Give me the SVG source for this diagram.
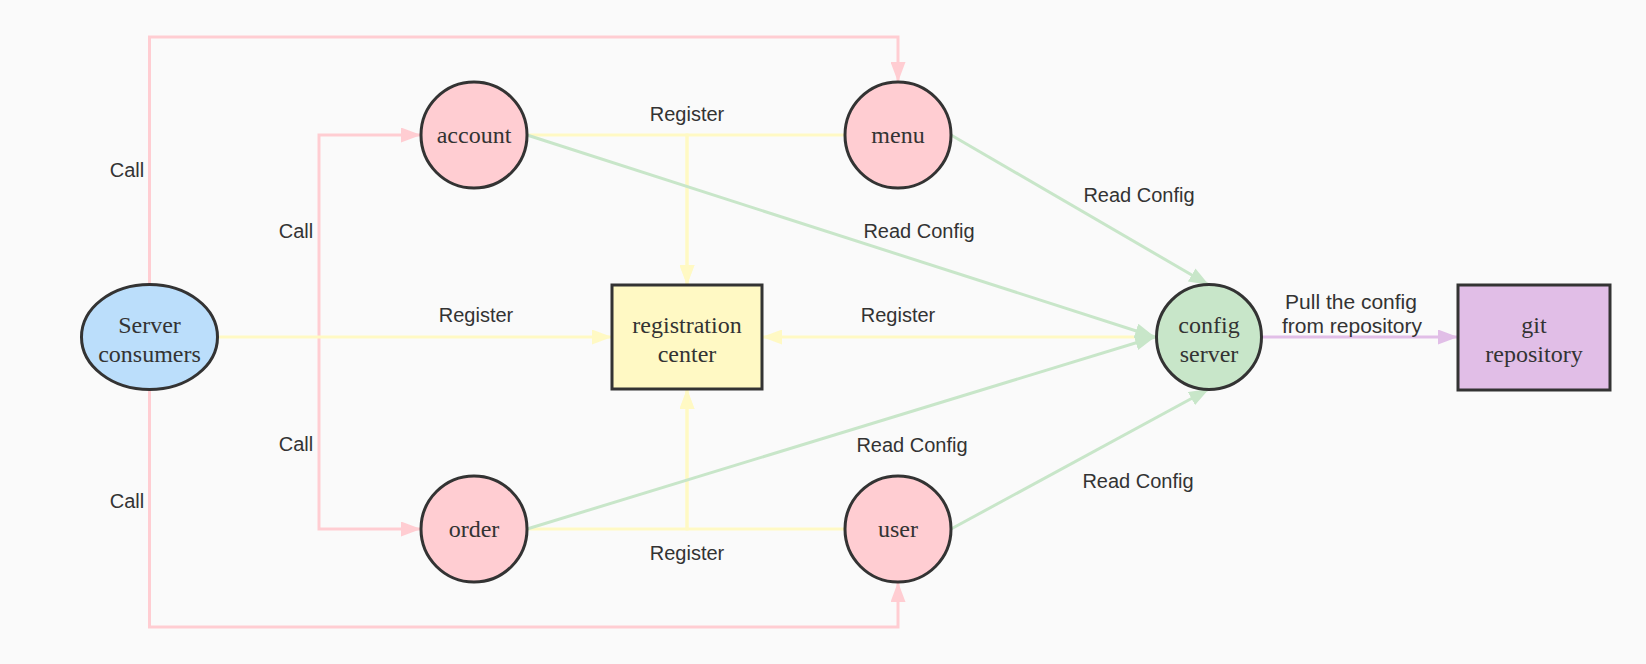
<svg xmlns="http://www.w3.org/2000/svg" width="1646" height="664" viewBox="0 0 1646 664">
<style>
.node{stroke:#333;stroke-width:3}
.nt{font-family:"Liberation Serif","Times New Roman",serif;font-size:24px;fill:#333;text-anchor:middle}
.lt{font-family:"Liberation Sans",Arial,sans-serif;font-size:20px;fill:#333;text-anchor:middle}
.big{font-size:21px}
.e{fill:none;stroke-width:3}
.pink{stroke:#FFCDD2}
.yel{stroke:#FFF9C4}
.grn{stroke:#C8E6C9}
.pur{stroke:#E1BEE7}
</style>
<defs>
<marker id="ap" markerUnits="userSpaceOnUse" markerWidth="20" markerHeight="15" refX="20" refY="7.5" orient="auto"><path d="M0,0 L20,7.5 L0,15 z" fill="#FFCDD2"/></marker>
<marker id="ay" markerUnits="userSpaceOnUse" markerWidth="20" markerHeight="15" refX="20" refY="7.5" orient="auto"><path d="M0,0 L20,7.5 L0,15 z" fill="#FFF9C4"/></marker>
<marker id="ag" markerUnits="userSpaceOnUse" markerWidth="20" markerHeight="15" refX="20" refY="7.5" orient="auto"><path d="M0,0 L20,7.5 L0,15 z" fill="#C8E6C9"/></marker>
<marker id="au" markerUnits="userSpaceOnUse" markerWidth="20" markerHeight="15" refX="20" refY="7.5" orient="auto"><path d="M0,0 L20,7.5 L0,15 z" fill="#E1BEE7"/></marker>
</defs>
<rect width="1646" height="664" fill="#FAFAFA"/>
<g id="connectors">
<path class="e pink" d="M149.5,284 V37 H898 V82" marker-end="url(#ap)"/>
<path class="e pink" d="M149.5,390 V627 H898 V582" marker-end="url(#ap)"/>
<path class="e pink" d="M319,337 V135 H421" marker-end="url(#ap)"/>
<path class="e pink" d="M319,337 V529 H421" marker-end="url(#ap)"/>
<path class="e yel" d="M218,337 H612" marker-end="url(#ay)"/>
<path class="e yel" d="M527,135 H687 V285" marker-end="url(#ay)"/>
<path class="e yel" d="M845,135 H687 V285" marker-end="url(#ay)"/>
<path class="e yel" d="M527,529 H687 V389" marker-end="url(#ay)"/>
<path class="e yel" d="M845,529 H687 V389" marker-end="url(#ay)"/>
<path class="e yel" d="M1157,337 H762" marker-end="url(#ay)"/>
<path class="e grn" d="M527,135 L1155,337" marker-end="url(#ag)"/>
<path class="e grn" d="M951,135 L1209,285" marker-end="url(#ag)"/>
<path class="e grn" d="M527,529 L1155,337" marker-end="url(#ag)"/>
<path class="e grn" d="M951,529 L1209,389" marker-end="url(#ag)"/>
<path class="e pur" d="M1261,337 H1458" marker-end="url(#au)"/>
<g id="labels">
<text class="lt" x="127" y="177">Call</text>
<text class="lt" x="127" y="508">Call</text>
<text class="lt" x="296" y="238">Call</text>
<text class="lt" x="296" y="451">Call</text>
<text class="lt" x="476" y="322">Register</text>
<text class="lt" x="898" y="322">Register</text>
<text class="lt" x="687" y="121">Register</text>
<text class="lt" x="687" y="560">Register</text>
<text class="lt" x="1139" y="202">Read Config</text>
<text class="lt" x="919" y="238">Read Config</text>
<text class="lt" x="912" y="452">Read Config</text>
<text class="lt" x="1138" y="488">Read Config</text>
<text class="lt big" x="1351" y="309">Pull the config</text>
<text class="lt big" x="1352" y="333">from repository</text>
</g>
</g>
<g id="server-consumers">
<ellipse class="node" cx="149.5" cy="337" rx="68" ry="52.5" fill="#BBDEFB"/>
<text class="nt" x="149.5" y="332.5">Server</text>
<text class="nt" x="149.5" y="361.5">consumers</text>
</g>
<g id="account">
<circle class="node" cx="474" cy="135" r="53" fill="#FFCDD2"/>
<text class="nt" x="474" y="143">account</text>
</g>
<g id="menu">
<circle class="node" cx="898" cy="135" r="53" fill="#FFCDD2"/>
<text class="nt" x="898" y="143">menu</text>
</g>
<g id="order">
<circle class="node" cx="474" cy="529" r="53" fill="#FFCDD2"/>
<text class="nt" x="474" y="537">order</text>
</g>
<g id="user">
<circle class="node" cx="898" cy="529" r="53" fill="#FFCDD2"/>
<text class="nt" x="898" y="537">user</text>
</g>
<g id="registration-center">
<rect class="node" x="612" y="285" width="150" height="104" fill="#FFF9C4"/>
<text class="nt" x="687" y="332.5">registration</text>
<text class="nt" x="687" y="361.5">center</text>
</g>
<g id="config-server">
<circle class="node" cx="1209" cy="337" r="52.5" fill="#C8E6C9"/>
<text class="nt" x="1209" y="332.5">config</text>
<text class="nt" x="1209" y="361.5">server</text>
</g>
<g id="git-repository">
<rect class="node" x="1458" y="285" width="152" height="105" fill="#E1BEE7"/>
<text class="nt" x="1534" y="332.5">git</text>
<text class="nt" x="1534" y="361.5">repository</text>
</g>
</svg>
